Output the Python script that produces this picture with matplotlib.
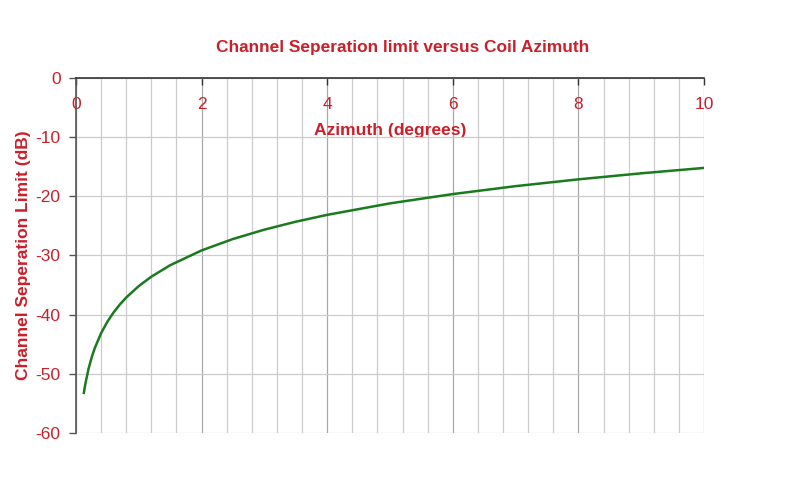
import matplotlib
matplotlib.use("Agg")
import matplotlib.pyplot as plt
from matplotlib.ticker import MultipleLocator

azimuth_deg = [0.125, 0.15, 0.2, 0.25, 0.3, 0.4, 0.5, 0.6, 0.7, 0.8, 1.0, 1.2, 1.5,
               2.0, 2.5, 3.0, 3.5, 4.0, 5.0, 6.0, 7.0, 8.0, 9.0, 10.0]
separation_db = [-53.22, -51.64, -49.14, -47.20, -45.62, -43.12, -41.18, -39.60, -38.26,
                 -37.10, -35.16, -33.58, -31.64, -29.14, -27.21, -25.63, -24.29, -23.13,
                 -21.19, -19.62, -18.28, -17.13, -16.11, -15.20]
x_ticks = [0, 2, 4, 6, 8, 10]
y_ticks = [0, -10, -20, -30, -40, -50, -60]

RED = "#cc1f2a"
plt.rcParams['font.family'] = ['Liberation Sans', 'DejaVu Sans']

fig = plt.figure(figsize=(8, 4.93), dpi=100)
ax = fig.add_axes([0.095, 0.1217, 0.785, 0.7201])

ax.set_xlim(0, 10)
ax.set_ylim(-60, 0)

# grid
ax.xaxis.set_minor_locator(MultipleLocator(0.4))
ax.set_xticks(x_ticks)
ax.set_yticks(y_ticks)
ax.grid(True, which='minor', axis='x', color='#cccccc', lw=0.9)
ax.grid(True, which='major', axis='x', color='#a8a8a8', lw=0.9)
ax.grid(True, which='major', axis='y', color='#cccccc', lw=0.9)
ax.set_axisbelow(True)

ax.plot(azimuth_deg, separation_db, color='#1a7a1e', lw=1.8, zorder=3)

for s in ['top', 'right']:
    ax.spines[s].set_visible(False)
ax.spines['bottom'].set_position(('data', 0))
ax.spines['bottom'].set_color('#333333')
ax.spines['left'].set_color('#555555')
ax.spines['bottom'].set_linewidth(1.2)
ax.spines['left'].set_linewidth(1.2)

ax.tick_params(axis='x', which='minor', length=0)
ax.tick_params(axis='x', which='major', direction='out', length=5, width=1,
               color='#333333', pad=8.5, labelsize=12.5, labelcolor=RED)
ax.tick_params(axis='y', direction='out', length=5, width=1, color='#555555',
               pad=6, labelsize=12.5, labelcolor=RED)
ax.set_xticklabels([str(t) for t in x_ticks])
ax.set_yticklabels([str(t) for t in y_ticks])

ax.set_xlabel('Azimuth (degrees)', color=RED, fontsize=12.5, fontweight='bold', labelpad=8)
ax.set_ylabel('Channel Seperation Limit (dB)', color=RED, fontsize=12.5,
              fontweight='bold', labelpad=3.5)
fig.text(0.503, 0.904, 'Channel Seperation limit versus Coil Azimuth', color=RED,
         fontsize=12.4, fontweight='bold', ha='center', va='center')

fig.savefig('out.png', dpi=100, facecolor='white')
